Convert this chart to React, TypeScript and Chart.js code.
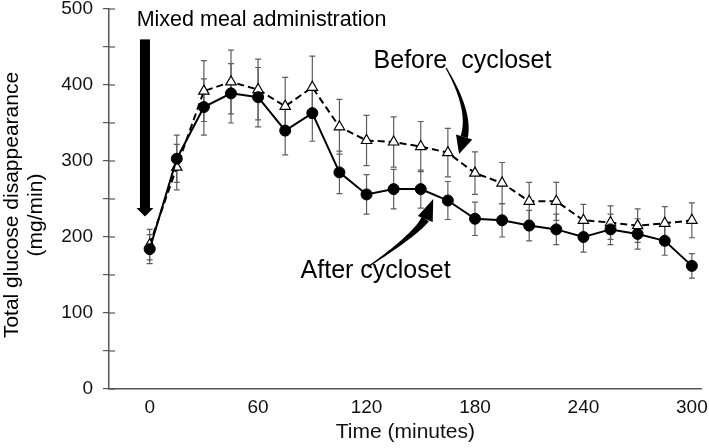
import { useEffect, useRef } from 'react';
import { Chart, registerables } from 'chart.js';

Chart.register(...registerables);

const times = [0, 15, 30, 45, 60, 75, 90, 105, 120, 135, 150, 165, 180, 195, 210, 225, 240, 255, 270, 285, 300];
const afterValues = [184, 303, 371, 389, 384, 340, 363, 285, 256, 263, 263, 248, 224, 222, 215, 210, 200, 210, 204, 195, 162];
const afterErrors = [19, 31, 37, 39, 39, 32, 37, 28, 26, 26, 25, 25, 22, 22, 20, 20, 20, 20, 20, 19, 16];
const beforeValues = [190, 292, 392, 404, 394, 372, 397, 345, 327, 325, 319, 311, 284, 271, 247, 247, 222, 219, 215, 218, 222];
const beforeErrors = [20, 30, 40, 42, 40, 38, 41, 36, 33, 33, 33, 32, 28, 27, 25, 25, 21, 22, 22, 22, 23];
const xTickValues = [0, 60, 120, 180, 240, 300];
const yLabelValues = [0, 100, 200, 300, 400, 500];

const FONT = '"Liberation Sans", Arial, Helvetica, sans-serif';
const AXIS_COLOR = '#555555';
const ERR_COLOR = '#5e5e5e';

type Pt = [number, number];

function drawTaperArrow(ctx: CanvasRenderingContext2D, S: Pt, C: Pt, B: Pt, T: Pt, w0: number, w1: number, hw: number) {
  const N = 40;
  const left: Pt[] = [];
  const right: Pt[] = [];
  for (let i = 0; i <= N; i++) {
    const t = i / N;
    const x = (1 - t) * (1 - t) * S[0] + 2 * (1 - t) * t * C[0] + t * t * B[0];
    const y = (1 - t) * (1 - t) * S[1] + 2 * (1 - t) * t * C[1] + t * t * B[1];
    const dx = 2 * (1 - t) * (C[0] - S[0]) + 2 * t * (B[0] - C[0]);
    const dy = 2 * (1 - t) * (C[1] - S[1]) + 2 * t * (B[1] - C[1]);
    const len = Math.hypot(dx, dy) || 1;
    const nx = -dy / len;
    const ny = dx / len;
    const w = (w0 + (w1 - w0) * Math.pow(t, 1.2)) / 2;
    left.push([x + nx * w, y + ny * w]);
    right.push([x - nx * w, y - ny * w]);
  }
  ctx.beginPath();
  ctx.moveTo(left[0][0], left[0][1]);
  for (const p of left) ctx.lineTo(p[0], p[1]);
  for (let i = right.length - 1; i >= 0; i--) ctx.lineTo(right[i][0], right[i][1]);
  ctx.closePath();
  ctx.fill();
  const dx = T[0] - B[0];
  const dy = T[1] - B[1];
  const len = Math.hypot(dx, dy) || 1;
  const nx = -dy / len;
  const ny = dx / len;
  ctx.beginPath();
  ctx.moveTo(B[0] + nx * hw / 2, B[1] + ny * hw / 2);
  ctx.lineTo(T[0], T[1]);
  ctx.lineTo(B[0] - nx * hw / 2, B[1] - ny * hw / 2);
  ctx.closePath();
  ctx.fill();
}

const annotationPlugin = {
  id: 'glucoseAnnotations',
  beforeDatasetsDraw(chart: any) {
    const { ctx, scales } = chart;
    const xs = scales.x;
    const ys = scales.y;
    const series = [
      { v: beforeValues, e: beforeErrors },
      { v: afterValues, e: afterErrors },
    ];
    ctx.save();
    ctx.strokeStyle = ERR_COLOR;
    ctx.lineWidth = 1.2;
    for (const s of series) {
      for (let i = 0; i < times.length; i++) {
        const x = xs.getPixelForValue(times[i]);
        const yt = ys.getPixelForValue(s.v[i] + s.e[i]);
        const yb = ys.getPixelForValue(s.v[i] - s.e[i]);
        ctx.beginPath();
        ctx.moveTo(x, yt);
        ctx.lineTo(x, yb);
        ctx.moveTo(x - 3, yt);
        ctx.lineTo(x + 3, yt);
        ctx.moveTo(x - 3, yb);
        ctx.lineTo(x + 3, yb);
        ctx.stroke();
      }
    }
    ctx.restore();
  },
  afterDraw(chart: any) {
    const { ctx, scales } = chart;
    const xs = scales.x;
    const ys = scales.y;
    const P = (x: number, y: number): Pt => [xs.getPixelForValue(x), ys.getPixelForValue(y)];
    ctx.save();
    // inward tick marks on the y axis
    ctx.strokeStyle = AXIS_COLOR;
    ctx.lineWidth = 1.2;
    for (let v = 0; v <= 500; v += 50) {
      const y = ys.getPixelForValue(v);
      ctx.beginPath();
      ctx.moveTo(ys.right, y);
      ctx.lineTo(ys.right + 6, y);
      ctx.stroke();
    }
    ctx.fillStyle = '#000';
    // vertical meal arrow
    const shaftTop = P(-2.6, 460);
    const headBase = P(-2.6, 238);
    const tip = P(-2.6, 227);
    ctx.fillRect(shaftTop[0] - 5, shaftTop[1], 10, headBase[1] - shaftTop[1]);
    ctx.beginPath();
    ctx.moveTo(headBase[0] - 8.5, headBase[1]);
    ctx.lineTo(headBase[0] + 8.5, headBase[1]);
    ctx.lineTo(tip[0], tip[1]);
    ctx.closePath();
    ctx.fill();
    // curved arrows
    drawTaperArrow(ctx, P(164.0, 422.4), P(177.8, 365.8), P(174.0, 331.6), P(171.2, 309.2), 1.2, 7.5, 17);
    drawTaperArrow(ctx, P(120.6, 160.5), P(147.5, 203.9), P(152.5, 223.7), P(156.9, 250), 1.2, 8.5, 16);
    // texts
    ctx.textBaseline = 'alphabetic';
    ctx.textAlign = 'left';
    ctx.font = `21.5px ${FONT}`;
    const m = P(-7.2, 477.6);
    ctx.fillText('Mixed meal administration', m[0], m[1]);
    ctx.font = `25px ${FONT}`;
    const b = P(123.9, 422);
    ctx.fillText('Before  cycloset', b[0], b[1]);
    const a = P(83.5, 145.7);
    ctx.fillText('After cycloset', a[0], a[1]);
    // y axis title
    ctx.font = `21px ${FONT}`;
    ctx.textAlign = 'center';
    ctx.save();
    ctx.translate(18, 205);
    ctx.rotate(-Math.PI / 2);
    ctx.fillText('Total glucose disappearance', 0, 0);
    ctx.restore();
    ctx.save();
    ctx.translate(42, 215);
    ctx.rotate(-Math.PI / 2);
    ctx.fillText('(mg/min)', 0, 0);
    ctx.restore();
    ctx.restore();
  },
};

export default function App() {
  const canvasRef = useRef<HTMLCanvasElement | null>(null);

  useEffect(() => {
    const canvas = canvasRef.current;
    if (!canvas) return;
    Chart.defaults.font.family = FONT;
    const chart = new Chart(canvas, {
      type: 'line',
      data: {
        datasets: [
          {
            label: 'After cycloset',
            data: times.map((t, i) => ({ x: t, y: afterValues[i] })),
            borderColor: '#000',
            backgroundColor: '#000',
            borderWidth: 2,
            pointStyle: 'circle',
            pointRadius: 5.5,
            pointBackgroundColor: '#000',
            pointBorderColor: '#000',
            pointBorderWidth: 1,
            tension: 0,
          },
          {
            label: 'Before cycloset',
            data: times.map((t, i) => ({ x: t, y: beforeValues[i] })),
            borderColor: '#000',
            backgroundColor: '#fff',
            borderWidth: 2,
            borderDash: [7, 4],
            pointStyle: 'triangle',
            pointRadius: 6,
            pointBackgroundColor: '#fff',
            pointBorderColor: '#000',
            pointBorderWidth: 1.2,
            tension: 0,
          },
        ],
      },
      options: {
        responsive: false,
        animation: false,
        events: [],
        layout: { padding: { left: 0, right: 4, top: 9, bottom: 0 } },
        plugins: {
          legend: { display: false },
          tooltip: { enabled: false },
          title: { display: false },
        },
        scales: {
          x: {
            type: 'linear',
            min: -22.5,
            max: 305.5,
            grid: { display: false, drawTicks: false },
            border: { display: true, color: AXIS_COLOR, width: 1.5 },
            afterBuildTicks: (scale: any) => {
              scale.ticks = xTickValues.map((v) => ({ value: v }));
            },
            afterFit: (scale: any) => {
              scale.height = 59;
              scale.paddingLeft = 0;
              scale.paddingRight = 0;
            },
            ticks: {
              color: '#111',
              font: { size: 19, family: FONT },
              padding: 7,
              maxRotation: 0,
              autoSkip: false,
              callback: (v: any) => String(v),
            },
            title: {
              display: true,
              text: 'Time (minutes)',
              color: '#111',
              font: { size: 21, family: FONT },
              padding: { top: 0, bottom: 3 },
            },
          },
          y: {
            type: 'linear',
            min: 0,
            max: 500,
            grid: { drawOnChartArea: false, drawTicks: true, tickLength: 6, color: AXIS_COLOR, lineWidth: 1.2 },
            border: { display: true, color: AXIS_COLOR, width: 1.5 },
            afterFit: (scale: any) => {
              scale.width = 109;
              scale.paddingTop = 0;
              scale.paddingBottom = 0;
            },
            ticks: {
              stepSize: 50,
              color: '#111',
              font: { size: 19, family: FONT },
              padding: 10,
              autoSkip: false,
              callback: (v: any) => (yLabelValues.includes(Number(v)) ? String(v) : ''),
            },
          },
        },
      },
      plugins: [annotationPlugin],
    } as any);
    return () => chart.destroy();
  }, []);

  return (
    <div style={{ position: 'absolute', left: 0, top: 0, width: 709, height: 448, background: '#fff' }}>
      <canvas ref={canvasRef} width={709} height={448} style={{ display: 'block' }} />
    </div>
  );
}
